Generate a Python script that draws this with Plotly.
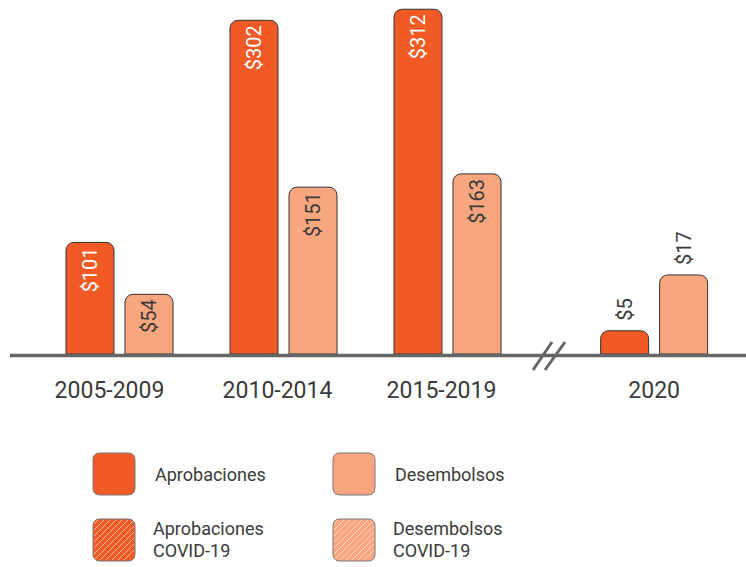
import plotly.graph_objects as go

# ---- data ----
periods = ["2005-2009", "2010-2014", "2015-2019", "2020"]
aprobaciones = [101, 302, 312, 5]
desembolsos = [54, 151, 163, 17]

# ---- layout constants ----
W, H = 746, 567
ML, MR, MT, MB = 10, 0, 5, 213
PW, PH = W - ML - MR, H - MT - MB
BASE = H - MB  # pixel of baseline

xpos = [0, 1, 2, 3.26]          # 2020 placed after an axis break
UNIT = 164.0
X0PX = 119.5
xrange = [(ML - X0PX) / UNIT, (W - MR - X0PX) / UNIT]
BW = 48 / UNIT
OFF = 29.5 / UNIT
label_shift_px = [-10, -6, -6, 0]
tickpos = [p + s / UNIT for p, s in zip(xpos, label_shift_px)]

C_APR = "#F15A24"
C_DES = "#F8A67E"
C_TXT = "#3a3a3a"
FONT = "Roboto"

def px(x):
    return (x - ML) / PW

def py(y):
    return (BASE - y) / PH

fig = go.Figure()

main_n = 3
common = dict(width=BW, textangle=-90, cliponaxis=False,
              marker_line=dict(color="#333333", width=1), showlegend=False,
              hoverinfo="x+y")

fig.add_trace(go.Bar(x=xpos[:main_n], y=aprobaciones[:main_n], offset=-OFF - BW / 2,
                     marker_color=C_APR, textposition="inside", insidetextanchor="end",
                     texttemplate="$%{y}",
                     textfont=dict(color="white", size=20, family=FONT),
                     yaxis="y", **common))
fig.add_trace(go.Bar(x=xpos[:main_n], y=desembolsos[:main_n], offset=OFF - BW / 2,
                     marker_color=C_DES, textposition="inside", insidetextanchor="end",
                     texttemplate="$%{y}",
                     textfont=dict(color=C_TXT, size=20, family=FONT),
                     yaxis="y", **common))
fig.add_trace(go.Bar(x=xpos[main_n:], y=aprobaciones[main_n:], offset=-OFF - BW / 2,
                     marker_color=C_APR, textposition="outside",
                     texttemplate="\u00a0\u200a$%{y}",
                     textfont=dict(color=C_TXT, size=20, family=FONT),
                     yaxis="y2", **common))
fig.add_trace(go.Bar(x=xpos[main_n:], y=desembolsos[main_n:], offset=OFF - BW / 2,
                     marker_color=C_DES, textposition="outside",
                     texttemplate="\u00a0\u200a$%{y}",
                     textfont=dict(color=C_TXT, size=20, family=FONT),
                     yaxis="y2", **common))

shapes = []
# baseline
shapes.append(dict(type="line", xref="paper", yref="paper", x0=px(10), x1=px(746),
                   y0=py(355.5), y1=py(355.5), line=dict(color="#666666", width=3.5),
                   layer="above"))
# axis break marks
for (a, b, c, d) in [(533, 370, 552, 342), (545, 370, 565, 342)]:
    shapes.append(dict(type="line", xref="paper", yref="paper", x0=px(a), y0=py(b),
                       x1=px(c), y1=py(d), line=dict(color="#666666", width=3),
                       layer="above"))

def rrect(x0, y0, x1, y1, r):
    pts = [
        ("M", [(x0 + r, y0)]), ("L", [(x1 - r, y0)]), ("Q", [(x1, y0), (x1, y0 + r)]),
        ("L", [(x1, y1 - r)]), ("Q", [(x1, y1), (x1 - r, y1)]), ("L", [(x0 + r, y1)]),
        ("Q", [(x0, y1), (x0, y1 - r)]), ("L", [(x0, y0 + r)]), ("Q", [(x0, y0), (x0 + r, y0)]),
    ]
    s = ""
    for cmd, ps in pts:
        s += cmd + " ".join(f"{px(a):.5f},{py(b):.5f}" for a, b in ps) + " "
    return s + "Z"

legend_items = [
    (93, 453, C_APR, False, ["Aprobaciones"]),
    (333, 453, C_DES, False, ["Desembolsos"]),
    (93, 519, C_APR, True, ["Aprobaciones", "COVID-19"]),
    (333, 519, C_DES, True, ["Desembolsos", "COVID-19"]),
]
annotations = []
S = 42
for (x0, y0, col, hatch, labels) in legend_items:
    x1, y1 = x0 + S, y0 + S
    shapes.append(dict(type="path", xref="paper", yref="paper", path=rrect(x0, y0, x1, y1, 7),
                       fillcolor=col, line=dict(color="#777777", width=1)))
    if hatch:
        r = 6
        c = x0 + y0 + r
        while c < x1 + y1 - r:
            xa = max(x0 + 1, c - (y1 - 1))
            xb = min(x1 - 1, c - (y0 + 1))
            if xb > xa:
                shapes.append(dict(type="line", xref="paper", yref="paper",
                                   x0=px(xa), y0=py(c - xa), x1=px(xb), y1=py(c - xb),
                                   line=dict(color="rgba(255,255,255,0.7)", width=0.8)))
            c += 6
    tx = x0 + 60
    if len(labels) == 1:
        annotations.append(dict(xref="paper", yref="paper", x=px(tx), y=py(y0 + 21),
                                text=labels[0], showarrow=False, xanchor="left",
                                yanchor="middle", font=dict(size=18, color=C_TXT, family=FONT)))
    else:
        for i, lab in enumerate(labels):
            annotations.append(dict(xref="paper", yref="paper", x=px(tx - 2),
                                    y=py(y0 + 9 + 22 * i), text=lab, showarrow=False,
                                    xanchor="left", yanchor="middle",
                                    font=dict(size=18, color=C_TXT, family=FONT)))

fig.update_layout(
    width=W, height=H, margin=dict(l=ML, r=MR, t=MT, b=MB),
    paper_bgcolor="white", plot_bgcolor="white",
    barmode="overlay", barcornerradius=8,
    uniformtext=dict(mode=False),
    xaxis=dict(range=xrange, tickvals=tickpos, ticktext=periods, showgrid=False,
               zeroline=False, showline=False, ticks="", ticklabelstandoff=20,
               tickfont=dict(size=23, color=C_TXT, family=FONT), fixedrange=True),
    yaxis=dict(range=[0, PH / 1.105], visible=False, fixedrange=True),
    yaxis2=dict(range=[0, PH / 4.65], visible=False, overlaying="y", fixedrange=True),
    shapes=shapes, annotations=annotations,
    font=dict(family=FONT, color=C_TXT),
)

fig.write_html("out.html", config={"displayModeBar": False},
               post_script="document.body.style.margin='0';")
